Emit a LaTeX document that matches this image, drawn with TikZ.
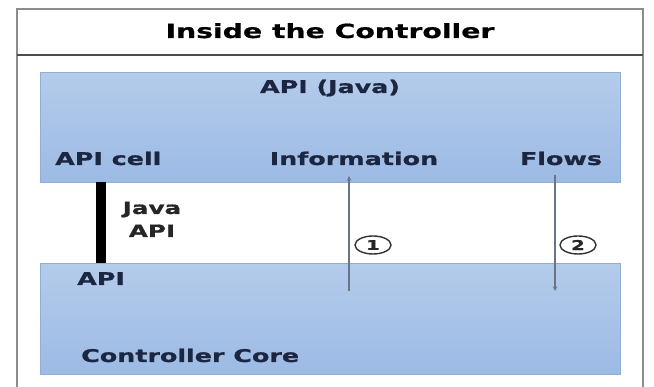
\documentclass[tikz,border=0pt]{standalone}
\usepackage{fontspec}
\newfontfamily\wideb[FakeStretch=1.45, FakeBold=0.8]{DejaVu Sans Bold}
\usetikzlibrary{shapes.geometric}
\definecolor{boxtop}{HTML}{B4CCEB}
\definecolor{boxbot}{HTML}{9CBAE4}
\definecolor{boxline}{HTML}{93AED3}
\definecolor{navy}{HTML}{1C2640}
\definecolor{framegray}{HTML}{8C8C8C}
\definecolor{flowgray}{HTML}{6A7484}
\tikzset{
  layer/.style={shade, top color=boxtop, bottom color=boxbot, draw=boxline, line width=0.8pt},
  lbl/.style={font=\wideb\fontsize{17.5}{20}\selectfont, text=navy, inner sep=0pt},
  flow/.style={->, draw=flowgray, line width=1.1pt},
  num/.style={ellipse, draw=black!80, line width=1.4pt, minimum width=36pt, minimum height=18pt, inner sep=0pt, font=\wideb\fontsize{13.5}{14}\selectfont, text=black!85}
}
\begin{document}
\begin{tikzpicture}[>=stealth, x=1pt, y=-1pt]
\useasboundingbox (0,0) rectangle (654,387);
\clip (0,0) rectangle (654,387);
\fill[white] (0,0) rectangle (654,387);

% cornice esterna e riga del titolo
\draw[framegray, line width=1.6pt] (17,400) -- (17,9) -- (643,9) -- (643,400);
\draw[black!70, line width=1.6pt] (17,55) -- (643,55);
\node[font=\wideb\fontsize{19.5}{24}\selectfont, inner sep=0pt, anchor=base] (title) at (330,38) {Inside the Controller};

% i due strati
\node[layer, anchor=north west, minimum width=580pt, minimum height=110pt, inner sep=0pt] (api) at (40,72) {};
\node[layer, anchor=north west, minimum width=580pt, minimum height=111pt, inner sep=0pt] (core) at (40,263) {};

% testi dello strato in alto
\node[lbl, anchor=base] (apijava) at (330,93) {API (Java)};
\node[lbl, anchor=base west] (apicell) at (55,165) {API cell};
\node[lbl, anchor=base] (info) at (354,165) {Information};
\node[lbl, anchor=base] (flows) at (561,165) {Flows};

% testi dello strato in basso
\node[lbl, anchor=base west] (apicore) at (77,285) {API};
\node[lbl, anchor=base west] (corename) at (81,362) {Controller Core};

% barra nera tra i due strati
\coordinate (bartop) at (101,182);
\coordinate (barbot) at (101,263);
\draw[black, line width=10pt] (bartop) -- (barbot);
\node[lbl, text=black!85, font=\wideb\fontsize{17}{18}\selectfont, anchor=base] (java) at (152,214) {Java};
\node[lbl, text=black!85, font=\wideb\fontsize{17}{18}\selectfont, anchor=base] (javaapi) at (152,237) {API};

% frecce 1 e 2
\coordinate (upfrom) at (349,291);
\coordinate (upto) at (349,176);
\draw[flow] (upfrom) -- (upto);
\coordinate (downfrom) at (555,175);
\coordinate (downto) at (555,291);
\draw[flow] (downfrom) -- (downto);
\node[num] (one) at (373,245) {1};
\node[num] (two) at (578,245) {2};
\end{tikzpicture}
\end{document}
